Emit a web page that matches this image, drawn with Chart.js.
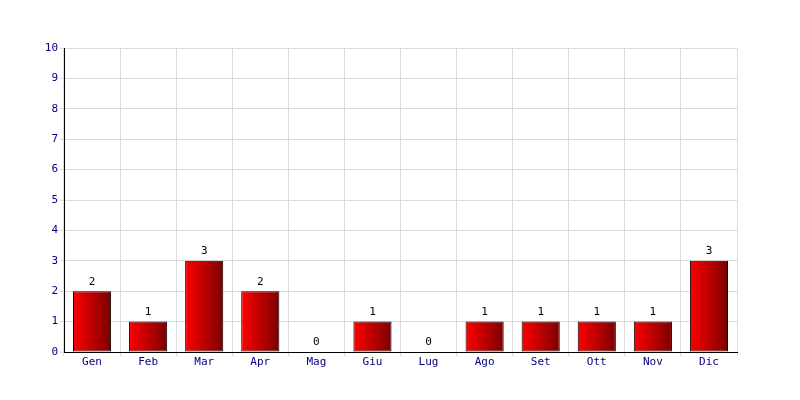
<!DOCTYPE html>
<html>
<head>
<meta charset="utf-8">
<script src="https://cdn.jsdelivr.net/npm/chart.js@4.4.0/dist/chart.umd.min.js"></script>
<style>
  body { margin: 0; background: #ffffff; }
  #wrap { width: 800px; height: 400px; }
</style>
</head>
<body>
<div id="wrap"><canvas id="monthChart"></canvas></div>
<script>
// Monthly counts
const months = ['Gen', 'Feb', 'Mar', 'Apr', 'Mag', 'Giu', 'Lug', 'Ago', 'Set', 'Ott', 'Nov', 'Dic'];
const counts = [2, 1, 3, 2, 0, 1, 0, 1, 1, 1, 1, 3];
const yTicks = [0, 1, 2, 3, 4, 5, 6, 7, 8, 9, 10];

const FONT = 'DejaVu Sans Mono';
const BAR_PCT = 0.68;

// horizontal red gradient across each bar
function barGradient(context) {
    const chart = context.chart;
    const xs = chart.scales.x;
    if (!xs || !chart.chartArea) return '#cc0000';
    const cx = xs.getPixelForValue(context.dataIndex);
    const w = (xs.width / months.length) * BAR_PCT;
    const g = chart.ctx.createLinearGradient(cx - w / 2, 0, cx + w / 2, 0);
    g.addColorStop(0, '#ff0000');
    g.addColorStop(1, '#7a0000');
    return g;
}

// value labels above bars
const valueLabels = {
    id: 'valueLabels',
    afterDatasetsDraw(chart) {
        const ctx = chart.ctx;
        const meta = chart.getDatasetMeta(0);
        ctx.save();
        ctx.font = '11px "' + FONT + '"';
        ctx.fillStyle = '#000000';
        ctx.textAlign = 'center';
        ctx.textBaseline = 'bottom';
        meta.data.forEach((bar, i) => {
            ctx.fillText(String(counts[i]), bar.x, bar.y - 4);
        });
        ctx.restore();
    }
};

new Chart(document.getElementById('monthChart'), {
    type: 'bar',
    data: {
        labels: months,
        datasets: [{
            data: counts,
            backgroundColor: barGradient,
            borderColor: '#000000',
            borderWidth: 1,
            borderSkipped: false,
            barPercentage: BAR_PCT,
            categoryPercentage: 1.0
        }]
    },
    options: {
        responsive: true,
        maintainAspectRatio: false,
        animation: false,
        layout: {
            padding: { left: 0, right: 63, top: 48, bottom: 0 }
        },
        plugins: {
            legend: { display: false },
            tooltip: { enabled: false }
        },
        scales: {
            x: {
                offset: true,
                grid: {
                    offset: true,
                    color: '#dcdcdc',
                    lineWidth: 1,
                    tickLength: 4
                },
                border: { color: '#000000', width: 1 },
                ticks: {
                    color: '#000080',
                    font: { family: FONT, size: 11 },
                    padding: 0,
                    maxRotation: 0
                },
                afterFit(scale) { scale.height = 48; }
            },
            y: {
                min: 0,
                max: 10,
                afterBuildTicks(scale) {
                    scale.ticks = yTicks.map(v => ({ value: v }));
                },
                grid: {
                    color: '#dcdcdc',
                    lineWidth: 1,
                    tickLength: 4
                },
                border: { color: '#000000', width: 1 },
                ticks: {
                    color: '#000080',
                    font: { family: FONT, size: 11 },
                    padding: 2
                },
                afterFit(scale) { scale.width = 64; }
            }
        }
    },
    plugins: [valueLabels]
});
</script>
</body>
</html>
